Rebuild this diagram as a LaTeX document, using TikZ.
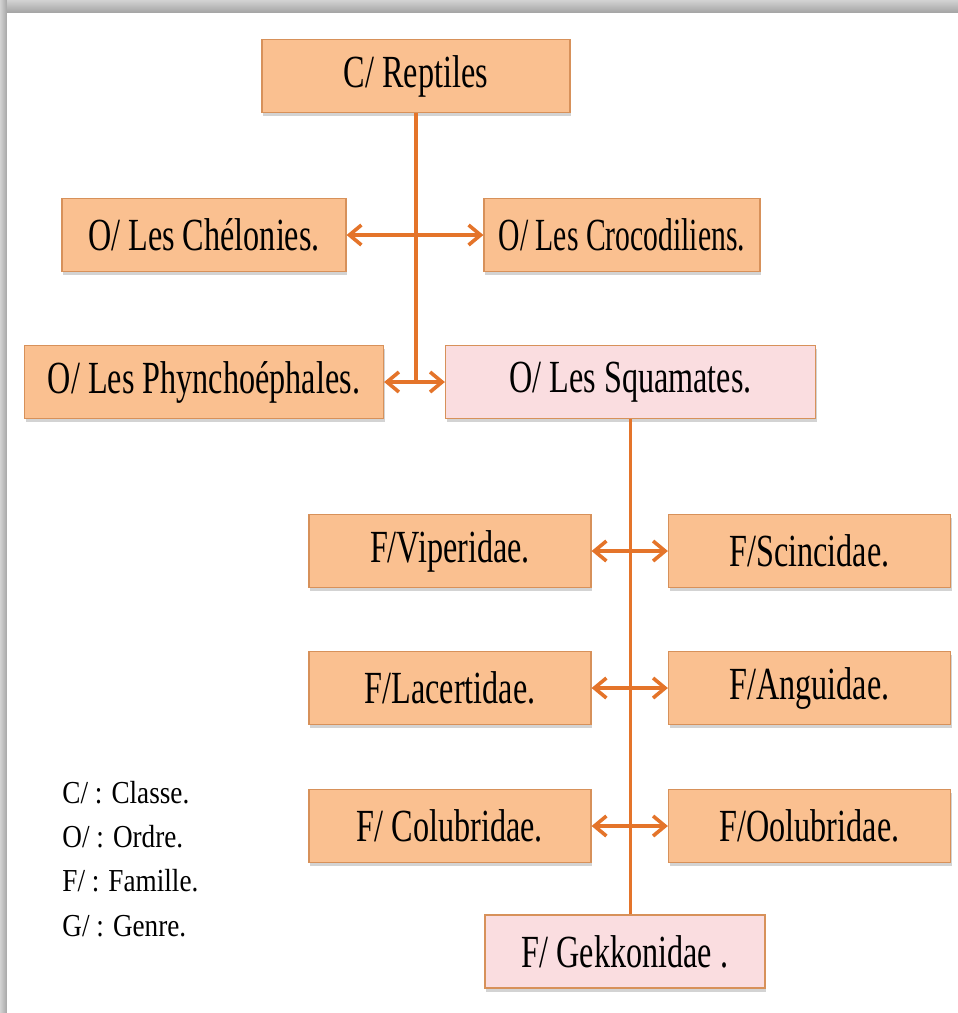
\documentclass[tikz,border=0pt]{standalone}
\usepackage{fontspec}
\setmainfont[FakeStretch=0.7]{Liberation Serif}
\newfontfamily\narrowfont[FakeStretch=0.645]{Liberation Serif}
\newfontfamily\legendfont[FakeStretch=0.85]{Liberation Serif}
\usetikzlibrary{positioning,shadows,arrows.meta}
\definecolor{boxfill}{RGB}{250,192,144}
\definecolor{pinkfill}{RGB}{250,221,224}
\definecolor{boxedge}{RGB}{215,145,90}
\definecolor{linkline}{RGB}{228,116,42}
\tikzstyle{block} = [rectangle, draw=boxedge, line width=0.6pt, fill=boxfill,
    text centered, minimum height=36.5pt, inner sep=0pt, font=\fontsize{23}{27}\selectfont,
    drop shadow={shadow xshift=0.6pt, shadow yshift=-1.8pt, opacity=0.35}]
\tikzstyle{pinkblock} = [block, fill=pinkfill]
\tikzstyle{line} = [draw=linkline, line width=1.8pt, >={Straight Barb[length=6pt,width=10pt]}]
\tikzstyle{legend} = [anchor=base west, inner sep=0pt, font=\legendfont\fontsize{16}{20}\selectfont]
\begin{document}
\begin{tikzpicture}
    \useasboundingbox (-208pt,38pt) rectangle (271pt,-468.5pt);
    % Page shadow
    \shade [top color=gray!35, bottom color=gray!70] (-208pt,38pt) rectangle (271pt,32pt);
    \shade [left color=gray!35, right color=gray!70] (-208pt,38pt) rectangle (-204.5pt,-468.5pt);
    % Place nodes
    \node [block, minimum width=154pt] (reptiles) {C/ Reptiles};
    \node [block, below of=reptiles, node distance=79.5pt, xshift=-106pt, minimum width=142pt] (chelonies) {O/ Les Chélonies.};
    \node [block, right of=chelonies, node distance=209pt, minimum width=138pt] (crocodiliens) {\narrowfont O/ Les Crocodiliens.};
    \node [block, below of=chelonies, node distance=73.5pt, minimum width=179.5pt] (phyncho) {O/ Les Phynchoéphales.};
    \node [pinkblock, right of=phyncho, node distance=213.25pt, minimum width=185pt] (squamates) {O/ Les Squamates.};
    \node [block, below of=squamates, node distance=84.5pt, xshift=-90.25pt, minimum width=141pt] (viperidae) {F/Viperidae.};
    \node [block, right of=viperidae, node distance=179.75pt, minimum width=141pt] (scincidae) {F/Scincidae.};
    \node [block, below of=viperidae, node distance=68.5pt, minimum width=141pt] (lacertidae) {F/Lacertidae.};
    \node [block, right of=lacertidae, node distance=179.75pt, minimum width=141pt] (anguidae) {F/Anguidae.};
    \node [block, below of=lacertidae, node distance=69pt, minimum width=141pt] (colubridae) {F/ Colubridae.};
    \node [block, right of=colubridae, node distance=179.75pt, minimum width=141pt] (oolubridae) {F/Oolubridae.};
    \node [pinkblock, below of=colubridae, node distance=62.75pt, xshift=87.5pt, minimum width=140pt] (gekkonidae) {F/ Gekkonidae .};
    % Legend
    \node [legend] (classe) at (-177pt,-363.5pt) {C/ : Classe.};
    \node [legend] (ordre) at (-177pt,-385.7pt) {O/ : Ordre.};
    \node [legend] (famille) at (-177pt,-407.9pt) {F/ : Famille.};
    \node [legend] (genre) at (-177pt,-430.1pt) {G/ : Genre.};
    % Draw edges
    \path [line] (reptiles) -- (reptiles |- phyncho.east);
    \path [line, <->] (chelonies) -- (crocodiliens);
    \path [line, <->] (phyncho) -- (squamates);
    \path [line] (squamates) -- (squamates |- gekkonidae.north);
    \path [line, <->] (viperidae) -- (scincidae);
    \path [line, <->] (lacertidae) -- (anguidae);
    \path [line, <->] (colubridae) -- (oolubridae);
\end{tikzpicture}
\end{document}
